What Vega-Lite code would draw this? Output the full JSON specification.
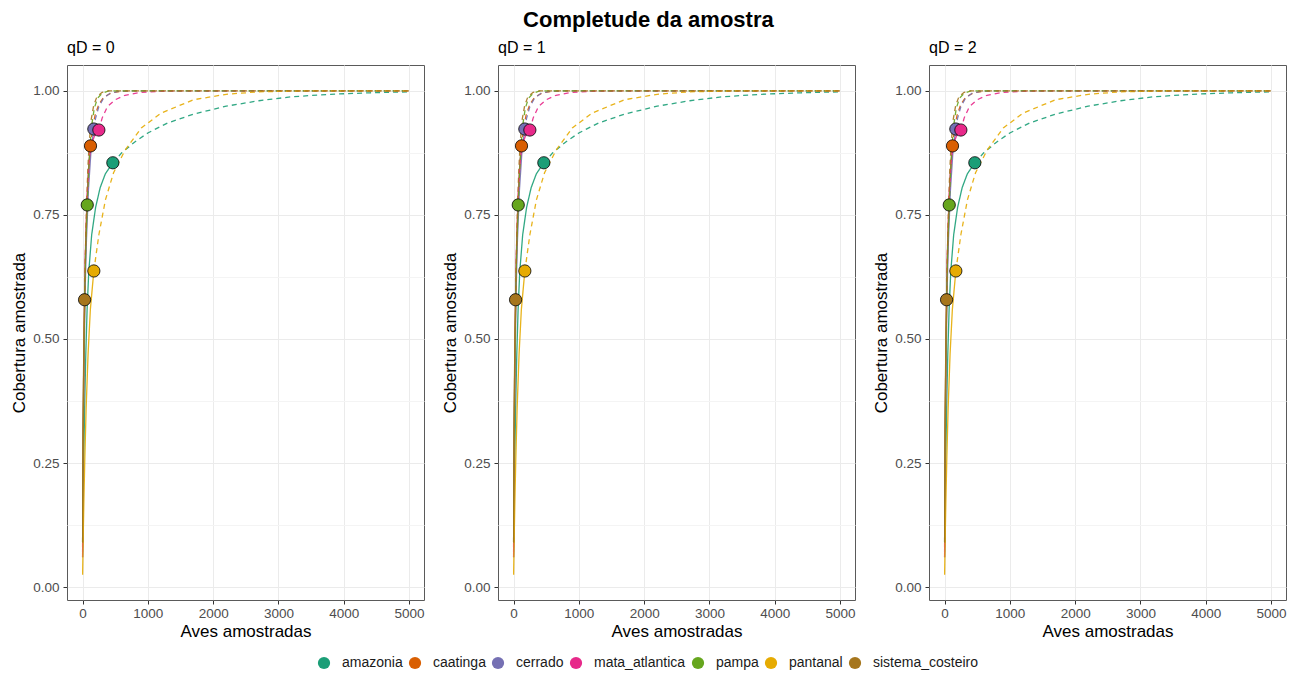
{
  "$schema": "https://vega.github.io/schema/vega-lite/v6.json",
  "background": "white",
  "padding": {"left": 10, "top": 8, "right": 10, "bottom": 3},
  "title": {"text": "Completude da amostra", "fontSize": 22, "fontWeight": "bold", "font": "Liberation Sans", "anchor": "middle", "frame": "bounds", "color": "black", "offset": 8},
  "spacing": 16,
  "datasets": {
    "curvas": [
      {"regiao": "amazonia", "metodo": "Rarefação", "m": 1, "cobertura": 0.06},
      {"regiao": "amazonia", "metodo": "Rarefação", "m": 5, "cobertura": 0.12},
      {"regiao": "amazonia", "metodo": "Rarefação", "m": 10, "cobertura": 0.18},
      {"regiao": "amazonia", "metodo": "Rarefação", "m": 20, "cobertura": 0.27},
      {"regiao": "amazonia", "metodo": "Rarefação", "m": 35, "cobertura": 0.38},
      {"regiao": "amazonia", "metodo": "Rarefação", "m": 50, "cobertura": 0.47},
      {"regiao": "amazonia", "metodo": "Rarefação", "m": 70, "cobertura": 0.56},
      {"regiao": "amazonia", "metodo": "Rarefação", "m": 95, "cobertura": 0.635},
      {"regiao": "amazonia", "metodo": "Rarefação", "m": 140, "cobertura": 0.71},
      {"regiao": "amazonia", "metodo": "Rarefação", "m": 200, "cobertura": 0.765},
      {"regiao": "amazonia", "metodo": "Rarefação", "m": 270, "cobertura": 0.805},
      {"regiao": "amazonia", "metodo": "Rarefação", "m": 350, "cobertura": 0.833},
      {"regiao": "amazonia", "metodo": "Rarefação", "m": 464, "cobertura": 0.855},
      {"regiao": "amazonia", "metodo": "Extrapolação", "m": 464, "cobertura": 0.855},
      {"regiao": "amazonia", "metodo": "Extrapolação", "m": 600, "cobertura": 0.875},
      {"regiao": "amazonia", "metodo": "Extrapolação", "m": 800, "cobertura": 0.897},
      {"regiao": "amazonia", "metodo": "Extrapolação", "m": 1000, "cobertura": 0.915},
      {"regiao": "amazonia", "metodo": "Extrapolação", "m": 1300, "cobertura": 0.935},
      {"regiao": "amazonia", "metodo": "Extrapolação", "m": 1700, "cobertura": 0.953},
      {"regiao": "amazonia", "metodo": "Extrapolação", "m": 2200, "cobertura": 0.969},
      {"regiao": "amazonia", "metodo": "Extrapolação", "m": 2700, "cobertura": 0.98},
      {"regiao": "amazonia", "metodo": "Extrapolação", "m": 3200, "cobertura": 0.988},
      {"regiao": "amazonia", "metodo": "Extrapolação", "m": 3800, "cobertura": 0.993},
      {"regiao": "amazonia", "metodo": "Extrapolação", "m": 4400, "cobertura": 0.996},
      {"regiao": "amazonia", "metodo": "Extrapolação", "m": 5000, "cobertura": 0.998},
      {"regiao": "caatinga", "metodo": "Rarefação", "m": 1, "cobertura": 0.08},
      {"regiao": "caatinga", "metodo": "Rarefação", "m": 5, "cobertura": 0.2},
      {"regiao": "caatinga", "metodo": "Rarefação", "m": 10, "cobertura": 0.3},
      {"regiao": "caatinga", "metodo": "Rarefação", "m": 20, "cobertura": 0.45},
      {"regiao": "caatinga", "metodo": "Rarefação", "m": 35, "cobertura": 0.6},
      {"regiao": "caatinga", "metodo": "Rarefação", "m": 50, "cobertura": 0.7},
      {"regiao": "caatinga", "metodo": "Rarefação", "m": 70, "cobertura": 0.78},
      {"regiao": "caatinga", "metodo": "Rarefação", "m": 95, "cobertura": 0.84},
      {"regiao": "caatinga", "metodo": "Rarefação", "m": 122, "cobertura": 0.889},
      {"regiao": "caatinga", "metodo": "Extrapolação", "m": 122, "cobertura": 0.889},
      {"regiao": "caatinga", "metodo": "Extrapolação", "m": 150, "cobertura": 0.92},
      {"regiao": "caatinga", "metodo": "Extrapolação", "m": 190, "cobertura": 0.95},
      {"regiao": "caatinga", "metodo": "Extrapolação", "m": 250, "cobertura": 0.973},
      {"regiao": "caatinga", "metodo": "Extrapolação", "m": 330, "cobertura": 0.988},
      {"regiao": "caatinga", "metodo": "Extrapolação", "m": 450, "cobertura": 0.996},
      {"regiao": "caatinga", "metodo": "Extrapolação", "m": 600, "cobertura": 0.999},
      {"regiao": "caatinga", "metodo": "Extrapolação", "m": 800, "cobertura": 1.0},
      {"regiao": "caatinga", "metodo": "Extrapolação", "m": 5000, "cobertura": 1.0},
      {"regiao": "cerrado", "metodo": "Rarefação", "m": 1, "cobertura": 0.07},
      {"regiao": "cerrado", "metodo": "Rarefação", "m": 5, "cobertura": 0.18},
      {"regiao": "cerrado", "metodo": "Rarefação", "m": 10, "cobertura": 0.28},
      {"regiao": "cerrado", "metodo": "Rarefação", "m": 20, "cobertura": 0.42},
      {"regiao": "cerrado", "metodo": "Rarefação", "m": 40, "cobertura": 0.6},
      {"regiao": "cerrado", "metodo": "Rarefação", "m": 60, "cobertura": 0.7},
      {"regiao": "cerrado", "metodo": "Rarefação", "m": 90, "cobertura": 0.8},
      {"regiao": "cerrado", "metodo": "Rarefação", "m": 130, "cobertura": 0.88},
      {"regiao": "cerrado", "metodo": "Rarefação", "m": 173, "cobertura": 0.923},
      {"regiao": "cerrado", "metodo": "Extrapolação", "m": 173, "cobertura": 0.923},
      {"regiao": "cerrado", "metodo": "Extrapolação", "m": 200, "cobertura": 0.945},
      {"regiao": "cerrado", "metodo": "Extrapolação", "m": 250, "cobertura": 0.968},
      {"regiao": "cerrado", "metodo": "Extrapolação", "m": 320, "cobertura": 0.985},
      {"regiao": "cerrado", "metodo": "Extrapolação", "m": 420, "cobertura": 0.995},
      {"regiao": "cerrado", "metodo": "Extrapolação", "m": 550, "cobertura": 0.999},
      {"regiao": "cerrado", "metodo": "Extrapolação", "m": 700, "cobertura": 1.0},
      {"regiao": "cerrado", "metodo": "Extrapolação", "m": 5000, "cobertura": 1.0},
      {"regiao": "mata_atlantica", "metodo": "Rarefação", "m": 1, "cobertura": 0.06},
      {"regiao": "mata_atlantica", "metodo": "Rarefação", "m": 5, "cobertura": 0.2},
      {"regiao": "mata_atlantica", "metodo": "Rarefação", "m": 10, "cobertura": 0.32},
      {"regiao": "mata_atlantica", "metodo": "Rarefação", "m": 20, "cobertura": 0.48},
      {"regiao": "mata_atlantica", "metodo": "Rarefação", "m": 40, "cobertura": 0.66},
      {"regiao": "mata_atlantica", "metodo": "Rarefação", "m": 70, "cobertura": 0.79},
      {"regiao": "mata_atlantica", "metodo": "Rarefação", "m": 100, "cobertura": 0.86},
      {"regiao": "mata_atlantica", "metodo": "Rarefação", "m": 130, "cobertura": 0.89},
      {"regiao": "mata_atlantica", "metodo": "Rarefação", "m": 180, "cobertura": 0.908},
      {"regiao": "mata_atlantica", "metodo": "Rarefação", "m": 250, "cobertura": 0.921},
      {"regiao": "mata_atlantica", "metodo": "Extrapolação", "m": 250, "cobertura": 0.921},
      {"regiao": "mata_atlantica", "metodo": "Extrapolação", "m": 300, "cobertura": 0.945},
      {"regiao": "mata_atlantica", "metodo": "Extrapolação", "m": 380, "cobertura": 0.968},
      {"regiao": "mata_atlantica", "metodo": "Extrapolação", "m": 500, "cobertura": 0.982},
      {"regiao": "mata_atlantica", "metodo": "Extrapolação", "m": 650, "cobertura": 0.991},
      {"regiao": "mata_atlantica", "metodo": "Extrapolação", "m": 900, "cobertura": 0.997},
      {"regiao": "mata_atlantica", "metodo": "Extrapolação", "m": 1200, "cobertura": 0.999},
      {"regiao": "mata_atlantica", "metodo": "Extrapolação", "m": 1600, "cobertura": 1.0},
      {"regiao": "mata_atlantica", "metodo": "Extrapolação", "m": 5000, "cobertura": 1.0},
      {"regiao": "pampa", "metodo": "Rarefação", "m": 1, "cobertura": 0.09},
      {"regiao": "pampa", "metodo": "Rarefação", "m": 5, "cobertura": 0.22},
      {"regiao": "pampa", "metodo": "Rarefação", "m": 10, "cobertura": 0.33},
      {"regiao": "pampa", "metodo": "Rarefação", "m": 20, "cobertura": 0.47},
      {"regiao": "pampa", "metodo": "Rarefação", "m": 35, "cobertura": 0.6},
      {"regiao": "pampa", "metodo": "Rarefação", "m": 50, "cobertura": 0.69},
      {"regiao": "pampa", "metodo": "Rarefação", "m": 72, "cobertura": 0.77},
      {"regiao": "pampa", "metodo": "Extrapolação", "m": 72, "cobertura": 0.77},
      {"regiao": "pampa", "metodo": "Extrapolação", "m": 90, "cobertura": 0.83},
      {"regiao": "pampa", "metodo": "Extrapolação", "m": 110, "cobertura": 0.88},
      {"regiao": "pampa", "metodo": "Extrapolação", "m": 140, "cobertura": 0.93},
      {"regiao": "pampa", "metodo": "Extrapolação", "m": 180, "cobertura": 0.965},
      {"regiao": "pampa", "metodo": "Extrapolação", "m": 230, "cobertura": 0.985},
      {"regiao": "pampa", "metodo": "Extrapolação", "m": 300, "cobertura": 0.995},
      {"regiao": "pampa", "metodo": "Extrapolação", "m": 400, "cobertura": 1.0},
      {"regiao": "pampa", "metodo": "Extrapolação", "m": 5000, "cobertura": 1.0},
      {"regiao": "pantanal", "metodo": "Rarefação", "m": 1, "cobertura": 0.025},
      {"regiao": "pantanal", "metodo": "Rarefação", "m": 10, "cobertura": 0.1},
      {"regiao": "pantanal", "metodo": "Rarefação", "m": 20, "cobertura": 0.17},
      {"regiao": "pantanal", "metodo": "Rarefação", "m": 35, "cobertura": 0.26},
      {"regiao": "pantanal", "metodo": "Rarefação", "m": 55, "cobertura": 0.36},
      {"regiao": "pantanal", "metodo": "Rarefação", "m": 85, "cobertura": 0.47},
      {"regiao": "pantanal", "metodo": "Rarefação", "m": 120, "cobertura": 0.56},
      {"regiao": "pantanal", "metodo": "Rarefação", "m": 173, "cobertura": 0.637},
      {"regiao": "pantanal", "metodo": "Extrapolação", "m": 173, "cobertura": 0.637},
      {"regiao": "pantanal", "metodo": "Extrapolação", "m": 250, "cobertura": 0.71},
      {"regiao": "pantanal", "metodo": "Extrapolação", "m": 350, "cobertura": 0.78},
      {"regiao": "pantanal", "metodo": "Extrapolação", "m": 475, "cobertura": 0.835},
      {"regiao": "pantanal", "metodo": "Extrapolação", "m": 650, "cobertura": 0.88},
      {"regiao": "pantanal", "metodo": "Extrapolação", "m": 900, "cobertura": 0.925},
      {"regiao": "pantanal", "metodo": "Extrapolação", "m": 1200, "cobertura": 0.955},
      {"regiao": "pantanal", "metodo": "Extrapolação", "m": 1700, "cobertura": 0.982},
      {"regiao": "pantanal", "metodo": "Extrapolação", "m": 2200, "cobertura": 0.993},
      {"regiao": "pantanal", "metodo": "Extrapolação", "m": 2700, "cobertura": 0.998},
      {"regiao": "pantanal", "metodo": "Extrapolação", "m": 3500, "cobertura": 1.0},
      {"regiao": "pantanal", "metodo": "Extrapolação", "m": 5000, "cobertura": 1.0},
      {"regiao": "sistema_costeiro", "metodo": "Rarefação", "m": 1, "cobertura": 0.09},
      {"regiao": "sistema_costeiro", "metodo": "Rarefação", "m": 4, "cobertura": 0.2},
      {"regiao": "sistema_costeiro", "metodo": "Rarefação", "m": 8, "cobertura": 0.31},
      {"regiao": "sistema_costeiro", "metodo": "Rarefação", "m": 14, "cobertura": 0.42},
      {"regiao": "sistema_costeiro", "metodo": "Rarefação", "m": 22, "cobertura": 0.51},
      {"regiao": "sistema_costeiro", "metodo": "Rarefação", "m": 31, "cobertura": 0.579},
      {"regiao": "sistema_costeiro", "metodo": "Extrapolação", "m": 31, "cobertura": 0.579},
      {"regiao": "sistema_costeiro", "metodo": "Extrapolação", "m": 45, "cobertura": 0.68},
      {"regiao": "sistema_costeiro", "metodo": "Extrapolação", "m": 60, "cobertura": 0.76},
      {"regiao": "sistema_costeiro", "metodo": "Extrapolação", "m": 80, "cobertura": 0.84},
      {"regiao": "sistema_costeiro", "metodo": "Extrapolação", "m": 100, "cobertura": 0.89},
      {"regiao": "sistema_costeiro", "metodo": "Extrapolação", "m": 130, "cobertura": 0.94},
      {"regiao": "sistema_costeiro", "metodo": "Extrapolação", "m": 170, "cobertura": 0.97},
      {"regiao": "sistema_costeiro", "metodo": "Extrapolação", "m": 220, "cobertura": 0.988},
      {"regiao": "sistema_costeiro", "metodo": "Extrapolação", "m": 300, "cobertura": 0.997},
      {"regiao": "sistema_costeiro", "metodo": "Extrapolação", "m": 400, "cobertura": 1.0},
      {"regiao": "sistema_costeiro", "metodo": "Extrapolação", "m": 5000, "cobertura": 1.0}
    ],
    "obs": [
      {"regiao": "amazonia", "m": 464, "cobertura": 0.855},
      {"regiao": "caatinga", "m": 122, "cobertura": 0.889},
      {"regiao": "cerrado", "m": 173, "cobertura": 0.923},
      {"regiao": "mata_atlantica", "m": 250, "cobertura": 0.921},
      {"regiao": "pampa", "m": 72, "cobertura": 0.77},
      {"regiao": "pantanal", "m": 173, "cobertura": 0.637},
      {"regiao": "sistema_costeiro", "m": 31, "cobertura": 0.579}
    ]
  },
  "hconcat": [
    {
      "title": {"text": "qD = 0"},
      "width": 357, "height": 535,
      "layer": [
        {
          "data": {"name": "curvas"},
          "mark": {"type": "line", "strokeWidth": 1.3, "clip": true, "opacity": 0.9},
          "encoding": {
            "x": {"field": "m", "type": "quantitative", "title": "Aves amostradas", "scale": {"domain": [-238, 5229], "nice": false, "zero": false},
              "axis": {"values": [0, 500, 1000, 1500, 2000, 2500, 3000, 3500, 4000, 4500, 5000], "format": "d", "labelExpr": "datum.value % 1000 === 0 ? datum.label : ''",
                "tickColor": {"condition": {"test": "datum.value % 1000 === 0", "value": "#333333"}, "value": "rgba(0,0,0,0)"},
                "gridColor": {"condition": {"test": "datum.value % 1000 === 0", "value": "#EBEBEB"}, "value": "#F4F4F4"}}},
            "y": {"field": "cobertura", "type": "quantitative", "title": "Cobertura amostrada", "scale": {"domain": [-0.026, 1.052], "nice": false, "zero": false},
              "axis": {"values": [0, 0.125, 0.25, 0.375, 0.5, 0.625, 0.75, 0.875, 1], "format": ".2f", "labelExpr": "(datum.value * 4) % 1 === 0 ? datum.label : ''",
                "tickColor": {"condition": {"test": "(datum.value * 4) % 1 === 0", "value": "#333333"}, "value": "rgba(0,0,0,0)"},
                "gridColor": {"condition": {"test": "(datum.value * 4) % 1 === 0", "value": "#EBEBEB"}, "value": "#F4F4F4"}}},
            "stroke": {"field": "regiao", "type": "nominal", "scale": {"domain": ["sistema_costeiro", "pantanal", "pampa", "mata_atlantica", "cerrado", "caatinga", "amazonia"], "range": ["#A6761D", "#E6AB02", "#66A61E", "#E7298A", "#7570B3", "#D95F02", "#1B9E77"]}, "legend": null},
            "strokeDash": {"field": "metodo", "type": "nominal", "scale": {"domain": ["Rarefação", "Extrapolação"], "range": [[1, 0], [5, 4]]}, "legend": null},
            "order": {"field": "m", "type": "quantitative"}
          }
        },
        {
          "data": {"name": "obs"},
          "mark": {"type": "point", "filled": true, "size": 150, "stroke": "black", "strokeWidth": 0.8, "opacity": 1},
          "encoding": {
            "x": {"field": "m", "type": "quantitative"},
            "y": {"field": "cobertura", "type": "quantitative"},
            "fill": {"field": "regiao", "type": "nominal", "scale": {"domain": ["amazonia", "caatinga", "cerrado", "mata_atlantica", "pampa", "pantanal", "sistema_costeiro"], "range": ["#1B9E77", "#D95F02", "#7570B3", "#E7298A", "#66A61E", "#E6AB02", "#A6761D"]},
              "legend": {"orient": "bottom", "direction": "horizontal", "title": null}}
          }
        }
      ]
    },
    {
      "title": {"text": "qD = 1"},
      "width": 357, "height": 535,
      "layer": [
        {
          "data": {"name": "curvas"},
          "mark": {"type": "line", "strokeWidth": 1.3, "clip": true, "opacity": 0.9},
          "encoding": {
            "x": {"field": "m", "type": "quantitative", "title": "Aves amostradas", "scale": {"domain": [-238, 5229], "nice": false, "zero": false},
              "axis": {"values": [0, 500, 1000, 1500, 2000, 2500, 3000, 3500, 4000, 4500, 5000], "format": "d", "labelExpr": "datum.value % 1000 === 0 ? datum.label : ''",
                "tickColor": {"condition": {"test": "datum.value % 1000 === 0", "value": "#333333"}, "value": "rgba(0,0,0,0)"},
                "gridColor": {"condition": {"test": "datum.value % 1000 === 0", "value": "#EBEBEB"}, "value": "#F4F4F4"}}},
            "y": {"field": "cobertura", "type": "quantitative", "title": "Cobertura amostrada", "scale": {"domain": [-0.026, 1.052], "nice": false, "zero": false},
              "axis": {"values": [0, 0.125, 0.25, 0.375, 0.5, 0.625, 0.75, 0.875, 1], "format": ".2f", "labelExpr": "(datum.value * 4) % 1 === 0 ? datum.label : ''",
                "tickColor": {"condition": {"test": "(datum.value * 4) % 1 === 0", "value": "#333333"}, "value": "rgba(0,0,0,0)"},
                "gridColor": {"condition": {"test": "(datum.value * 4) % 1 === 0", "value": "#EBEBEB"}, "value": "#F4F4F4"}}},
            "stroke": {"field": "regiao", "type": "nominal", "legend": null},
            "strokeDash": {"field": "metodo", "type": "nominal", "scale": {"domain": ["Rarefação", "Extrapolação"], "range": [[1, 0], [5, 4]]}, "legend": null},
            "order": {"field": "m", "type": "quantitative"}
          }
        },
        {
          "data": {"name": "obs"},
          "mark": {"type": "point", "filled": true, "size": 150, "stroke": "black", "strokeWidth": 0.8, "opacity": 1},
          "encoding": {
            "x": {"field": "m", "type": "quantitative"},
            "y": {"field": "cobertura", "type": "quantitative"},
            "fill": {"field": "regiao", "type": "nominal", "legend": {"orient": "bottom", "direction": "horizontal", "title": null}}
          }
        }
      ]
    },
    {
      "title": {"text": "qD = 2"},
      "width": 357, "height": 535,
      "layer": [
        {
          "data": {"name": "curvas"},
          "mark": {"type": "line", "strokeWidth": 1.3, "clip": true, "opacity": 0.9},
          "encoding": {
            "x": {"field": "m", "type": "quantitative", "title": "Aves amostradas", "scale": {"domain": [-238, 5229], "nice": false, "zero": false},
              "axis": {"values": [0, 500, 1000, 1500, 2000, 2500, 3000, 3500, 4000, 4500, 5000], "format": "d", "labelExpr": "datum.value % 1000 === 0 ? datum.label : ''",
                "tickColor": {"condition": {"test": "datum.value % 1000 === 0", "value": "#333333"}, "value": "rgba(0,0,0,0)"},
                "gridColor": {"condition": {"test": "datum.value % 1000 === 0", "value": "#EBEBEB"}, "value": "#F4F4F4"}}},
            "y": {"field": "cobertura", "type": "quantitative", "title": "Cobertura amostrada", "scale": {"domain": [-0.026, 1.052], "nice": false, "zero": false},
              "axis": {"values": [0, 0.125, 0.25, 0.375, 0.5, 0.625, 0.75, 0.875, 1], "format": ".2f", "labelExpr": "(datum.value * 4) % 1 === 0 ? datum.label : ''",
                "tickColor": {"condition": {"test": "(datum.value * 4) % 1 === 0", "value": "#333333"}, "value": "rgba(0,0,0,0)"},
                "gridColor": {"condition": {"test": "(datum.value * 4) % 1 === 0", "value": "#EBEBEB"}, "value": "#F4F4F4"}}},
            "stroke": {"field": "regiao", "type": "nominal", "legend": null},
            "strokeDash": {"field": "metodo", "type": "nominal", "scale": {"domain": ["Rarefação", "Extrapolação"], "range": [[1, 0], [5, 4]]}, "legend": null},
            "order": {"field": "m", "type": "quantitative"}
          }
        },
        {
          "data": {"name": "obs"},
          "mark": {"type": "point", "filled": true, "size": 150, "stroke": "black", "strokeWidth": 0.8, "opacity": 1},
          "encoding": {
            "x": {"field": "m", "type": "quantitative"},
            "y": {"field": "cobertura", "type": "quantitative"},
            "fill": {"field": "regiao", "type": "nominal", "legend": {"orient": "bottom", "direction": "horizontal", "title": null}}
          }
        }
      ]
    }
  ],
  "config": {
    "font": "Liberation Sans",
    "view": {"stroke": "#5A5A5A", "strokeWidth": 1},
    "title": {"fontSize": 16, "fontWeight": "normal", "anchor": "start", "frame": "group", "color": "black", "offset": 9, "font": "Liberation Sans"},
    "axis": {"domain": false, "tickSize": 4, "tickWidth": 1, "labelFontSize": 13.5, "labelColor": "#4D4D4D", "titleFontSize": 17, "titleFontWeight": "normal", "titleColor": "black", "gridWidth": 1},
    "axisX": {"labelPadding": 2, "titlePadding": 4},
    "axisY": {"labelPadding": 4, "titlePadding": 4},
    "legend": {"labelFontSize": 14, "labelColor": "#1A1A1A", "symbolType": "circle", "symbolSize": 150, "symbolStrokeWidth": 0, "symbolOpacity": 1, "columnPadding": 5, "labelOffset": 11, "offset": 16, "layout": {"bottom": {"anchor": "middle"}}}
  }
}
